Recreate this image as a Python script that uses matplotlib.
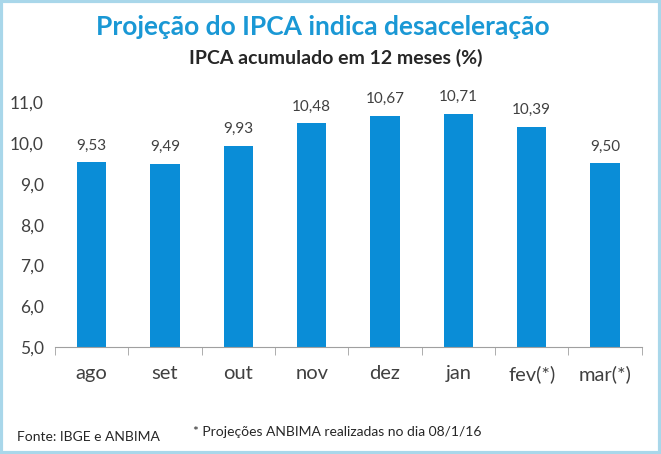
import matplotlib.pyplot as plt
import matplotlib.patches as mpatches
import numpy as np

# Dados
meses = ["ago", "set", "out", "nov", "dez", "jan", "fev(*)", "mar(*)"]
ipca = [9.53, 9.49, 9.93, 10.48, 10.67, 10.71, 10.39, 9.50]
y_ticks = [5.0, 6.0, 7.0, 8.0, 9.0, 10.0, 11.0]

plt.rcParams['font.family'] = ['Lato', 'DejaVu Sans']

fig = plt.figure(figsize=(6.61, 4.54), dpi=100)
fig.patch.set_facecolor("white")

# moldura azul clara
fig.patches.append(mpatches.Rectangle((0.002, 0.003), 0.996, 0.994, transform=fig.transFigure,
                                      fill=False, edgecolor="#A9D7EA", linewidth=3))

ax = fig.add_axes([0.083, 0.235, 0.888, 0.540])
x = np.arange(len(meses))
ax.bar(x, ipca, width=0.4, color="#0A8DD7", zorder=2)

for xi, v in zip(x, ipca):
    ax.text(xi, v + 0.24, f"{v:.2f}".replace(".", ","), ha="center", va="bottom",
            fontsize=11, color="#404040")

ax.set_xlim(-0.5, len(meses) - 0.5)
ax.set_ylim(5, 11)
ax.set_yticks(y_ticks)
ax.set_yticklabels([f"{t:.1f}".replace(".", ",") for t in y_ticks], fontsize=12.5, color="#404040")
ax.set_xticks(x)
ax.set_xticklabels(meses, fontsize=14.5, color="#404040")
ax.set_xticks(np.arange(-0.5, len(meses), 1), minor=True)
ax.tick_params(axis="x", which="major", length=0, pad=13)
ax.tick_params(axis="x", which="minor", length=6, color="#A0A0A0", direction="out")
ax.tick_params(axis="y", length=0, pad=8)

for s in ["top", "right", "left"]:
    ax.spines[s].set_visible(False)
ax.spines["bottom"].set_color("#A0A0A0")

fig.text(0.489, 0.94, "Projeção do IPCA indica desaceleração", ha="center", va="center",
         fontsize=19, fontweight="bold", color="#1A98D5")
fig.text(0.508, 0.872, "IPCA acumulado em 12 meses (%)", ha="center", va="center",
         fontsize=14, fontweight="bold", color="#262626")
fig.text(0.026, 0.037, "Fonte: IBGE e ANBIMA", ha="left", va="center", fontsize=10, color="#262626")
fig.text(0.292, 0.048, "* Projeções ANBIMA realizadas no dia 08/1/16", ha="left", va="center",
         fontsize=10, color="#262626")

fig.savefig("out.png", dpi=100)
